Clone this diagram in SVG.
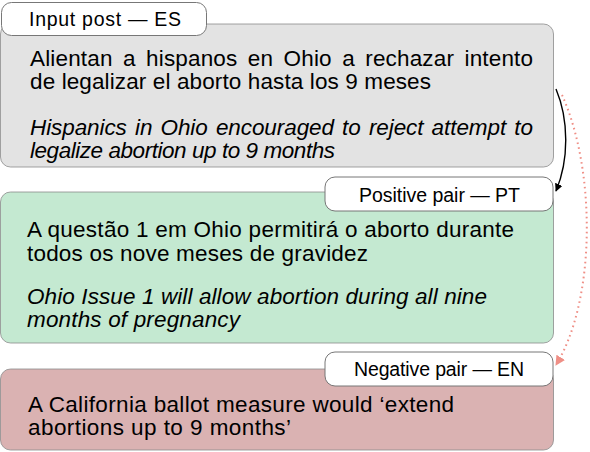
<svg xmlns="http://www.w3.org/2000/svg" width="590" height="452" viewBox="0 0 590 452">
  <style>
    .box { stroke: #8a8a8a; stroke-width: 0.8; }
    .gray { fill: #e3e3e3; }
    .green { fill: #c4e9d1; }
    .pink { fill: #dab2b2; }
    .tag { fill: #ffffff; stroke: #777777; stroke-width: 1; }
    .body { font-family: "Liberation Sans", Arial, Helvetica, sans-serif; font-size: 22.5px; fill: #000; }
    .it { font-style: italic; }
    .lbl { font-family: "Liberation Sans", Arial, Helvetica, sans-serif; font-size: 19.5px; fill: #000; }
  </style>
  <defs>
    <marker id="arrBlack" viewBox="0 0 10 10" refX="9" refY="5" markerWidth="8" markerHeight="8" orient="auto" markerUnits="userSpaceOnUse">
      <path d="M0,0 L10,5 L0,10 z" fill="#000"/>
    </marker>
    <marker id="arrSalmon" viewBox="0 0 10 10" refX="9" refY="5" markerWidth="10" markerHeight="10" orient="auto" markerUnits="userSpaceOnUse">
      <path d="M0,0 L10,5 L0,10 z" fill="#ef8f86"/>
    </marker>
  </defs>

  <g id="node-input">
    <rect class="box gray" x="0.5" y="24" width="553" height="143" rx="10"/>
    <rect class="tag" x="1.5" y="2.5" width="205" height="33" rx="10"/>
    <text class="lbl" x="29" y="26" textLength="152" lengthAdjust="spacing">Input post — ES</text>
    <text class="body" x="30" y="66" textLength="503" lengthAdjust="spacing" word-spacing="4">Alientan a hispanos en Ohio a rechazar intento</text>
    <text class="body" x="30" y="89" textLength="401" lengthAdjust="spacing">de legalizar el aborto hasta los 9 meses</text>
    <text class="body it" x="30" y="135" textLength="503" lengthAdjust="spacing" word-spacing="2">Hispanics in Ohio encouraged to reject attempt to</text>
    <text class="body it" x="30" y="158" textLength="305" lengthAdjust="spacing">legalize abortion up to 9 months</text>
  </g>

  <g id="node-positive">
    <rect class="box green" x="0.5" y="192" width="553" height="151" rx="10"/>
    <rect class="tag" x="325" y="177" width="228" height="34" rx="10"/>
    <text class="lbl" x="359" y="201.5" textLength="161" lengthAdjust="spacing">Positive pair — PT</text>
    <text class="body" x="27" y="237" textLength="487" lengthAdjust="spacing">A questão 1 em Ohio permitirá o aborto durante</text>
    <text class="body" x="27" y="261" textLength="341" lengthAdjust="spacing">todos os nove meses de gravidez</text>
    <text class="body it" x="27" y="304" textLength="460" lengthAdjust="spacing">Ohio Issue 1 will allow abortion during all nine</text>
    <text class="body it" x="27" y="327" textLength="213" lengthAdjust="spacing">months of pregnancy</text>
  </g>

  <g id="node-negative">
    <rect class="box pink" x="0.5" y="369" width="553" height="81" rx="10"/>
    <rect class="tag" x="325" y="352" width="228" height="34" rx="10"/>
    <text class="lbl" x="354" y="376" textLength="170" lengthAdjust="spacing">Negative pair — EN</text>
    <text class="body" x="28" y="412" textLength="426" lengthAdjust="spacing">A California ballot measure would ‘extend</text>
    <text class="body" x="28" y="435" textLength="263" lengthAdjust="spacing">abortions up to 9 months’</text>
  </g>

  <g id="connectors" fill="none">
    <path d="M556,89 C569,120 569,160 556,191" stroke="#000" stroke-width="1.4" marker-end="url(#arrBlack)"/>
    <path d="M562,95 C596,170 596,300 556,365" stroke="#ef8f86" stroke-width="2" stroke-dasharray="1.6 3.4" marker-end="url(#arrSalmon)"/>
  </g>
</svg>
